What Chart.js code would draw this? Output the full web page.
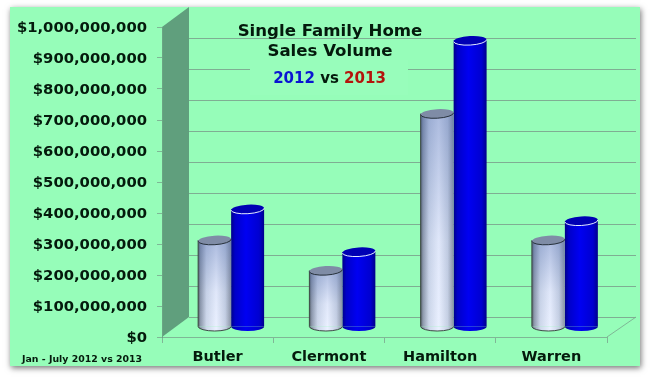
<!DOCTYPE html>
<html><head><meta charset="utf-8">
<style>html,body{margin:0;padding:0;background:#fff}canvas{display:block}</style>
<script src="https://cdn.jsdelivr.net/npm/chart.js@4"></script>
</head><body><div style="width:650px;height:379px"><canvas id="c" width="650" height="379"></canvas></div>
<script>
const categories = ["Butler","Clermont","Hamilton","Warren"];
const series2012 = [280000000,182000000,688000000,280000000];
const series2013 = [380000000,242000000,924000000,342000000];
const titleLine1 = "Single Family Home";
const titleLine2 = "Sales Volume";
const legendYearA = "2012";
const legendJoin = " vs ";
const legendYearB = "2013";
const footnote = "Jan - July 2012 vs 2013";

const WALL_DX = 27, WALL_DY = -20, BAR_DX = 13.5, BAR_DY = -10, RY = 4.5;
const FONT = '"DejaVu Sans"';

function barGradient(c, stops) {
  const sx = c.chart.scales.x;
  if (!sx || c.dataIndex === undefined) return stops[0][1];
  const w = sx.width / categories.length * 0.593 / 2;
  const cx = sx.getPixelForValue(c.dataIndex) + (c.datasetIndex - 0.5) * w;
  if (!isFinite(cx) || !isFinite(w)) return stops[0][1];
  const g = c.chart.ctx.createLinearGradient(cx - w / 2, 0, cx + w / 2, 0);
  stops.forEach(s => g.addColorStop(s[0], s[1]));
  return g;
}
const silverStops = [[0,"#555e66"],[0.07,"#8e99ac"],[0.25,"#cdd7ea"],[0.55,"#eaf0ff"],[0.82,"#c6d0e4"],[1,"#8a93a4"]];
const blueStops = [[0,"#00008a"],[0.12,"#0000c8"],[0.45,"#0000f2"],[0.85,"#0000d0"],[1,"#00008c"]];

const scene = {
  id: "scene",
  beforeDraw(chart) {
    const ctx = chart.ctx, a = chart.chartArea;
    ctx.save();
    ctx.shadowColor = "rgba(0,0,0,0.55)"; ctx.shadowBlur = 6; ctx.shadowOffsetX = 1; ctx.shadowOffsetY = 2;
    ctx.fillStyle = "#96fdb9";
    ctx.fillRect(10, 7, 630, 359);
    ctx.restore();
    ctx.save();
    // left wall
    ctx.fillStyle = "#609f7d";
    ctx.beginPath();
    ctx.moveTo(a.left, a.top); ctx.lineTo(a.left + WALL_DX, a.top + WALL_DY);
    ctx.lineTo(a.left + WALL_DX, a.bottom + WALL_DY); ctx.lineTo(a.left, a.bottom);
    ctx.closePath(); ctx.fill();
    // floor edge
    ctx.strokeStyle = "#7fb796"; ctx.lineWidth = 1;
    ctx.beginPath();
    ctx.moveTo(a.right, a.bottom); ctx.lineTo(a.right + WALL_DX + 2, a.bottom + WALL_DY);
    ctx.stroke();
    // back wall gridlines
    const ys = chart.scales.y;
    ctx.strokeStyle = "#7fae93";
    ys.ticks.forEach(t => {
      const y = Math.round(ys.getPixelForValue(t.value) + WALL_DY) + 0.5;
      if (y < 10) return;
      ctx.beginPath(); ctx.moveTo(a.left + WALL_DX, y); ctx.lineTo(a.right + WALL_DX + 2, y); ctx.stroke();
    });
    // title plate
    ctx.fillStyle = "#98fdbb";
    ctx.fillRect(250, 60, 158, 35);
    ctx.fillStyle = "#041a0c"; ctx.textAlign = "center"; ctx.textBaseline = "middle";
    ctx.font = "bold 16.6px " + FONT;
    ctx.fillText(titleLine1, 330, 32);
    ctx.fillText(titleLine2, 330, 52);
    ctx.font = "bold 15px " + FONT;
    const wa = ctx.measureText(legendYearA).width, wj = ctx.measureText(legendJoin).width, wb = ctx.measureText(legendYearB).width;
    let x = 329.5 - (wa + wj + wb) / 2;
    ctx.textAlign = "left";
    ctx.fillStyle = "#0a14d2"; ctx.fillText(legendYearA, x, 79); x += wa;
    ctx.fillStyle = "#041a0c"; ctx.fillText(legendJoin, x, 79); x += wj;
    ctx.fillStyle = "#b4140c"; ctx.fillText(legendYearB, x, 79);
    // footnote
    ctx.fillStyle = "#041a0c"; ctx.font = "bold 9.4px " + FONT;
    ctx.fillText(footnote, 22, 360);
    ctx.restore();
  },
  beforeDatasetDraw(chart, args) {
    const ctx = chart.ctx;
    ctx.save();
    ctx.translate(BAR_DX, BAR_DY);
    // rounded foot under each column
    chart.getDatasetMeta(args.index).data.forEach(b => {
      ctx.fillStyle = b.options.backgroundColor;
      ctx.beginPath();
      ctx.ellipse(b.x, b.base, b.width / 2, RY, 0, 0, Math.PI);
      ctx.fill();
    });
  },
  afterDatasetDraw(chart, args) {
    const ctx = chart.ctx, silver = args.index === 0;
    chart.getDatasetMeta(args.index).data.forEach(b => {
      const rx = b.width / 2;
      if (silver) {
        // bluish tint toward the top of the silver columns
        const g = ctx.createLinearGradient(0, b.y, 0, b.base);
        g.addColorStop(0, "rgba(70,100,170,0.38)");
        g.addColorStop(0.6, "rgba(70,100,170,0.06)");
        g.addColorStop(1, "rgba(70,100,170,0)");
        ctx.fillStyle = g;
        ctx.fillRect(b.x - rx, b.y, b.width, b.base - b.y);
        // foot and left edge outline
        ctx.strokeStyle = "#3d4a44"; ctx.lineWidth = 1;
        ctx.beginPath(); ctx.ellipse(b.x, b.base, rx, RY, 0, 0, Math.PI); ctx.stroke();
        ctx.beginPath(); ctx.moveTo(b.x - rx, b.y); ctx.lineTo(b.x - rx, b.base); ctx.stroke();
      }
      // top cap
      ctx.lineWidth = 1;
      ctx.fillStyle = silver ? "#7f8ca6" : "#0000b4";
      ctx.beginPath(); ctx.ellipse(b.x, b.y, rx, RY, -0.06, 0, Math.PI * 2); ctx.fill();
      ctx.strokeStyle = silver ? "#26303a" : "#e4ecff";
      ctx.beginPath(); ctx.ellipse(b.x, b.y, rx, RY, -0.06, 0, Math.PI); ctx.stroke();
    });
    ctx.restore();
  }
};

new Chart(document.getElementById("c"), {
  type: "bar",
  data: {
    labels: categories,
    datasets: [
      { label: legendYearA, data: series2012, backgroundColor: c => barGradient(c, silverStops), borderWidth: 0 },
      { label: legendYearB, data: series2013, backgroundColor: c => barGradient(c, blueStops), borderWidth: 0 }
    ]
  },
  options: {
    responsive: false, animation: false, devicePixelRatio: 1,
    layout: { autoPadding: false, padding: { top: 27, right: 43, bottom: 0, left: 0 } },
    plugins: { legend: { display: false }, title: { display: false }, tooltip: { enabled: false } },
    datasets: { bar: { categoryPercentage: 0.593, barPercentage: 1 } },
    scales: {
      x: {
        afterFit(s) { s.height = 42; },
        grid: { display: true, drawOnChartArea: false, color: "#7fb796", tickLength: 6, offset: true },
        border: { display: true, color: "#7fb796" },
        ticks: { color: "#041a0c", padding: 6, maxRotation: 0, font: { family: FONT, weight: "bold", size: 14.5 } }
      },
      y: {
        min: 0, max: 1000000000,
        afterFit(s) { s.width = 162; },
        grid: { display: true, drawOnChartArea: false, color: "#7fb796", tickLength: 5 },
        border: { display: true, color: "#6aa584" },
        ticks: { stepSize: 100000000, color: "#041a0c", padding: 10, labelOffset: 1.5, font: { family: FONT, weight: "bold", size: 14.8 },
          callback: v => "$" + Number(v).toLocaleString("en-US") }
      }
    }
  },
  plugins: [scene]
});
</script></body></html>
